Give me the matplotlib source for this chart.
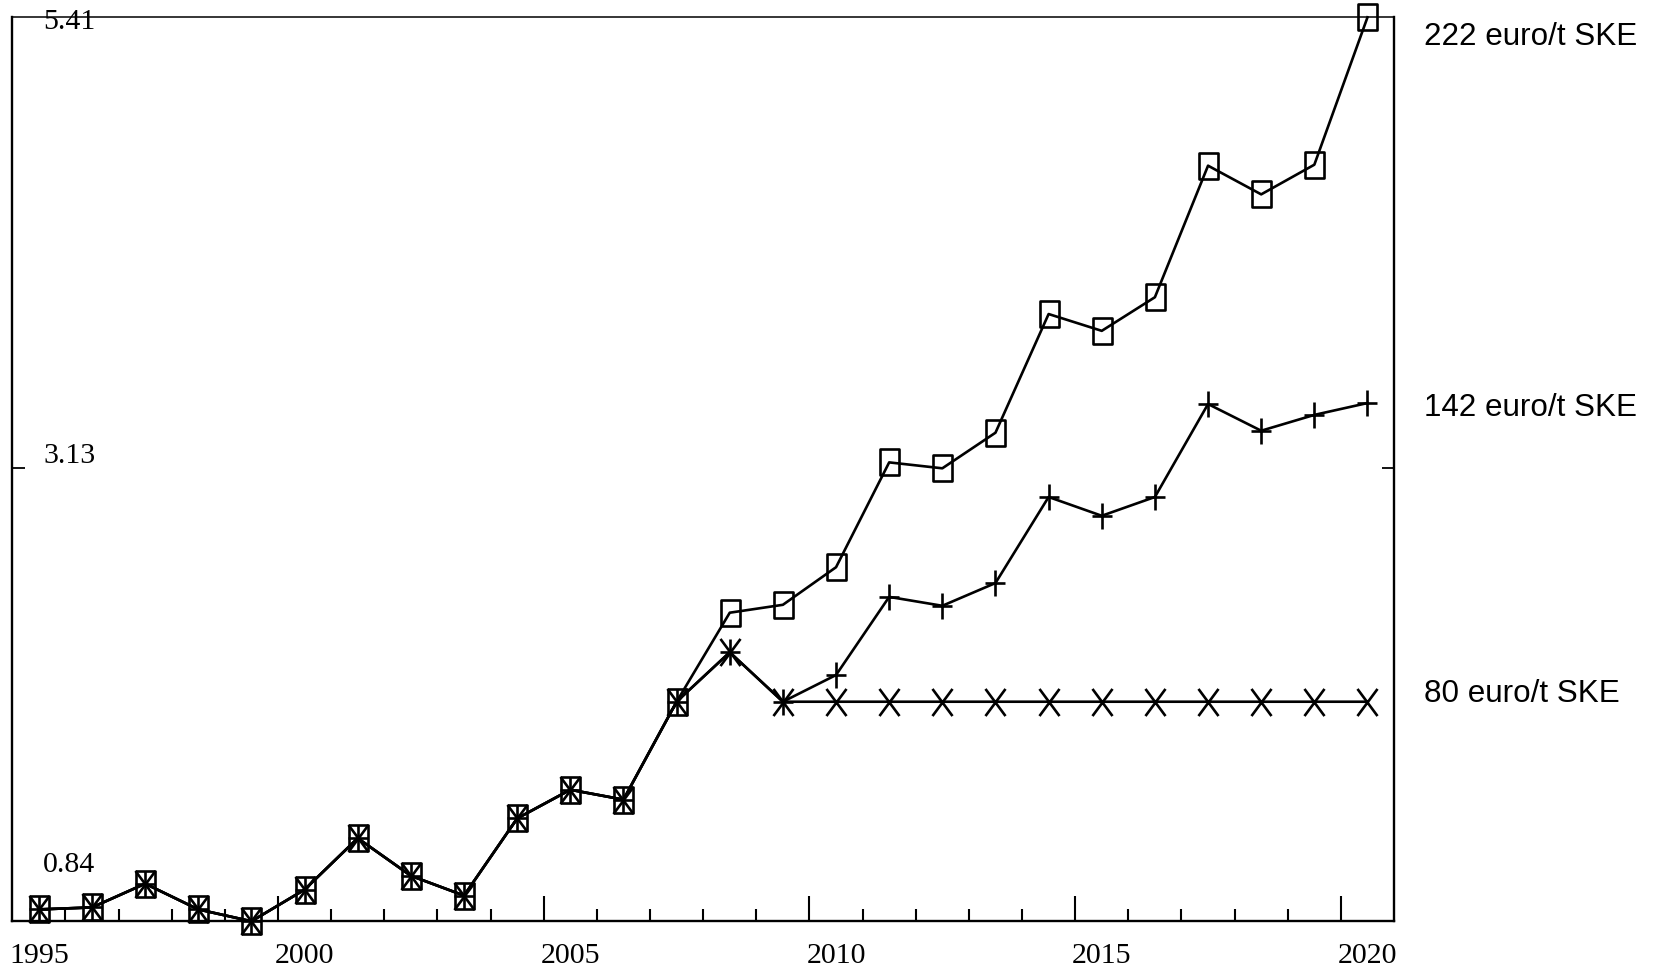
import numpy as np
import matplotlib
matplotlib.use("Agg")
import matplotlib.pyplot as plt
from matplotlib.path import Path

# ---- data ----
years = list(range(1995, 2021))
common = [0.90, 0.91, 1.03, 0.90, 0.84, 1.00, 1.26, 1.07, 0.97, 1.36, 1.505, 1.455, 1.95]  # 1995-2007
s222 = common + [2.40, 2.44, 2.63, 3.16, 3.13, 3.31, 3.91, 3.825, 3.995, 4.66, 4.515, 4.665, 5.41]
s142 = common + [2.20, 1.95, 2.085, 2.48, 2.435, 2.55, 2.985, 2.89, 2.985, 3.455, 3.32, 3.40, 3.46]
s80 = common + [2.20, 1.95, 1.95, 1.95, 1.95, 1.95, 1.95, 1.95, 1.95, 1.95, 1.95, 1.95, 1.95]
series_labels = ["222 euro/t SKE", "142 euro/t SKE", "80 euro/t SKE"]
ytick_vals = [5.41, 3.13, 0.84]
year_labels = [1995, 2000, 2005, 2010, 2015, 2020]

serif = "Liberation Serif"
sans = "Liberation Sans"

fig = plt.figure(figsize=(16.55, 9.70), dpi=100)
ax = fig.add_axes([0.00743, 0.0492, 0.8349, 0.9319])

# custom markers (taller than wide)
rect = Path([(-0.36, -0.5), (0.36, -0.5), (0.36, 0.5), (-0.36, 0.5), (-0.36, -0.5)],
            [Path.MOVETO, Path.LINETO, Path.LINETO, Path.LINETO, Path.CLOSEPOLY])
plus = Path([(-0.4, 0), (0.4, 0), (0, -0.5), (0, 0.5)],
            [Path.MOVETO, Path.LINETO, Path.MOVETO, Path.LINETO])
xmk = Path([(-0.37, -0.5), (0.37, 0.5), (-0.37, 0.5), (0.37, -0.5)],
           [Path.MOVETO, Path.LINETO, Path.MOVETO, Path.LINETO])

lw = 1.9
mew = 1.9
ax.plot(years, s80, color="black", lw=lw, marker=xmk, markersize=19.5,
        markeredgewidth=mew, markerfacecolor="none", markeredgecolor="black",
        zorder=3, clip_on=False)
ax.plot(years, s142, color="black", lw=lw, marker=plus, markersize=18.5,
        markeredgewidth=mew, markerfacecolor="none", markeredgecolor="black",
        zorder=3, clip_on=False)
ax.plot(years, s222, color="black", lw=lw, marker=rect, markersize=19,
        markeredgewidth=mew, markerfacecolor="none", markeredgecolor="black",
        zorder=3, clip_on=False)

ax.set_xlim(1994.5, 2020.5)
ax.set_ylim(min(ytick_vals), max(ytick_vals))

# x ticks: long ticks at every 5th year boundary, short at every year boundary
ax.set_xticks([1999.5, 2004.5, 2009.5, 2014.5, 2019.5])
ax.set_xticks(np.arange(1995.5, 2020.0, 1.0), minor=True)
ax.tick_params(axis="x", which="major", direction="in", length=18, width=1.5,
               labelbottom=False, top=False)
ax.tick_params(axis="x", which="minor", direction="in", length=8.6, width=1.5, top=False)
for yr in year_labels:
    ax.text(yr, -0.0454, str(yr), transform=ax.get_xaxis_transform(), ha="center",
            va="baseline", fontsize=21.5, family=serif, clip_on=False)

# y ticks
ax.set_yticks([3.13])
ax.tick_params(axis="y", which="both", direction="in", length=9, width=1.3,
               left=True, right=True, labelleft=False, labelright=False)
ax.yaxis.set_minor_locator(plt.NullLocator())
ylab_pos = [0.988, 0.5081, 0.0556]
for v, yp in zip(ytick_vals, ylab_pos):
    ax.text(0.0222, yp, f"{v:.2f}", transform=ax.transAxes, ha="left", va="baseline",
            fontsize=21.5, family=serif)

# right-side series labels
rlab_pos = [0.9705, 0.5601, 0.2437]
for lab, yp in zip(series_labels, rlab_pos):
    ax.text(1.0215, yp, lab, transform=ax.transAxes, ha="left", va="baseline",
            fontsize=22.6, family=sans, clip_on=False)

for side in ["left", "right", "bottom"]:
    ax.spines[side].set_linewidth(1.7)
ax.spines["top"].set_linewidth(1.1)

fig.savefig("out.png", dpi=100)
